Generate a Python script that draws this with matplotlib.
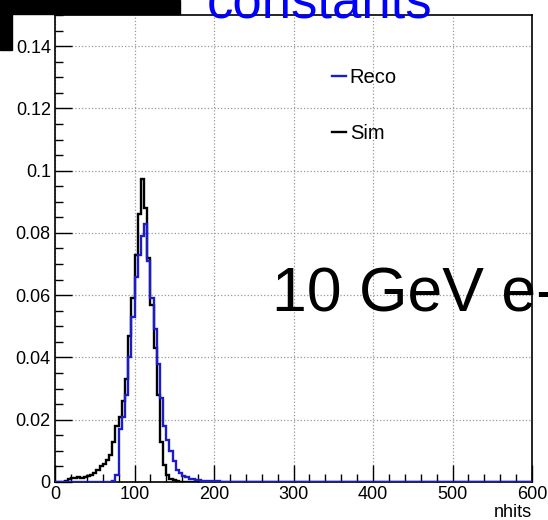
import matplotlib
matplotlib.use("Agg")
import matplotlib.pyplot as plt
import numpy as np
from matplotlib.patches import Rectangle
from matplotlib.ticker import MultipleLocator, FormatStrFormatter

plt.rcParams["font.family"] = ["Liberation Sans", "DejaVu Sans"]

# histogram binning (nhits), 4 hits per bin from 0 to 600
bin_width = 4
n_bins = 150

# Sim (black), normalised counts, bins starting at 0
sim_vals = [0, 0, 0, 0.0003, 0.0008, 0.0012, 0.0014, 0.0015, 0.0013, 0.0015,
            0.0018, 0.0021, 0.0030, 0.0040, 0.0050, 0.0058, 0.0070, 0.0088,
            0.0130, 0.0180, 0.0210, 0.0260, 0.0330, 0.0470, 0.0590, 0.0730,
            0.0860, 0.0974, 0.0880, 0.0720, 0.0570, 0.0430, 0.0280, 0.0130,
            0.0055, 0.0022, 0.0010, 0.0005, 0.0002]

# Reco (blue), normalised counts, bins starting at 0
reco_vals = [0, 0, 0, 0, 0, 0, 0, 0, 0, 0, 0, 0, 0, 0, 0, 0, 0, 0,
             0.0003, 0.0022, 0.0170, 0.0210, 0.0280, 0.0400, 0.0530, 0.0660,
             0.0730, 0.0790, 0.0830, 0.0710, 0.0590, 0.0490, 0.0380, 0.0270,
             0.0180, 0.0135, 0.0098, 0.0068, 0.0040, 0.0028, 0.0020, 0.0015,
             0.0011, 0.0008, 0.0006, 0.0005, 0.0003, 0.0003, 0.0003, 0.0003,
             0.0002, 0.0002]

edges = np.arange(0, (n_bins + 1) * bin_width, bin_width)
sim = np.zeros(n_bins)
sim[:len(sim_vals)] = sim_vals
reco = np.zeros(n_bins)
reco[:len(reco_vals)] = reco_vals

fig = plt.figure(figsize=(5.48, 5.2), dpi=100)
ax = fig.add_axes([0.1004, 0.0731, 0.8704, 0.8981])

ax.stairs(sim, edges, color="black", lw=1.7, label="Sim", zorder=3)
ax.stairs(reco, edges, color="#1c1cc8", lw=1.7, label="Reco", zorder=4)

ax.set_xlim(0, 600)
ax.set_ylim(0, 0.15)
ax.xaxis.set_major_locator(MultipleLocator(100))
ax.xaxis.set_minor_locator(MultipleLocator(20))
ax.yaxis.set_major_locator(MultipleLocator(0.02))
ax.yaxis.set_minor_locator(MultipleLocator(0.005))
ax.yaxis.set_major_formatter(FormatStrFormatter("%g"))
ax.tick_params(which="both", direction="in", top=False, right=False,
               labelsize=13, pad=3, width=1)
ax.tick_params(which="major", length=12)
ax.tick_params(which="minor", length=6)
ax.grid(True, which="major", ls=":", color="#999999", lw=0.9)
for s in ax.spines.values():
    s.set_linewidth(1.2)

ax.text(1.0, -0.065, "nhits", transform=ax.transAxes, ha="right", va="center",
        fontsize=13)

# legend, reordered Reco over Sim
h, l = ax.get_legend_handles_labels()
ax.legend(h[::-1], l[::-1], loc="upper left", bbox_to_anchor=(0.58, 0.887),
          frameon=False, fontsize=14.5, handlelength=0.7, handletextpad=0.2,
          labelspacing=1.85, borderpad=0, borderaxespad=0)

# overlapping slide text
fig.text(272 / 548, 1 - 312 / 520, "10 GeV e-", fontsize=45, ha="left",
         va="baseline", color="black")
fig.text(207 / 548, 1 - 18 / 520, "constants", fontsize=38, ha="left",
         va="baseline", color="blue")

# black bars in the top left corner of the slide
fig.patches.append(Rectangle((0, 1 - 14 / 520), 180 / 548, 14 / 520,
                             transform=fig.transFigure, color="black"))
fig.patches.append(Rectangle((0, 1 - 50 / 520), 12 / 548, 50 / 520,
                             transform=fig.transFigure, color="black"))

fig.savefig("out.png", dpi=100)
